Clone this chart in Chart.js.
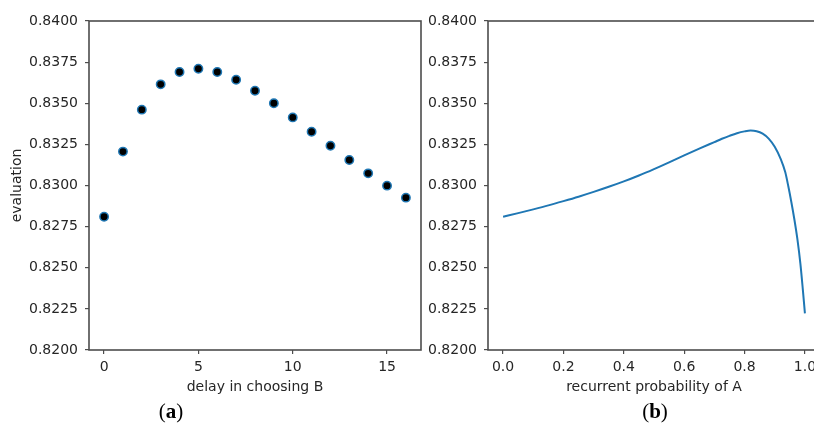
<!DOCTYPE html>
<html><head><meta charset="utf-8">
<script src="https://cdn.jsdelivr.net/npm/chart.js@4.4.1/dist/chart.umd.min.js"></script>
<style>
html,body{margin:0;padding:0;background:#fff;width:814px;height:426px;overflow:hidden;position:relative;}
.wrap{position:absolute;top:0;width:440px;height:426px;}
#wrapA{left:0;}
#wrapB{left:399px;}
.lab{position:absolute;top:399px;font-family:'Liberation Serif','DejaVu Serif',serif;font-size:21px;color:#000;transform:translateX(-50%);white-space:nowrap;line-height:24px;}
</style></head><body>
<div class="wrap" id="wrapA"><canvas id="cA" width="440" height="426" style="width:440px;height:426px"></canvas></div>
<div class="wrap" id="wrapB"><canvas id="cB" width="440" height="426" style="width:440px;height:426px"></canvas></div>
<div class="lab" style="left:171px">(<b>a</b>)</div>
<div class="lab" style="left:655px">(<b>b</b>)</div>
<script>
// ---- data ----
const delayX = [0,1,2,3,4,5,6,7,8,9,10,11,12,13,14,15,16];
const delayEval = [0.82810,0.83206,0.83461,0.83615,0.83690,0.83710,0.83690,0.83643,0.83576,0.83500,0.83414,0.83327,0.83242,0.83155,0.83074,0.82999,0.82926];
const probX = [0,0.05,0.1,0.15,0.2,0.25,0.3,0.35,0.4,0.45,0.5,0.55,0.6,0.65,0.7,0.725,0.75,0.775,0.8,0.82,0.84,0.86,0.88,0.9,0.92,0.935,0.945,0.955,0.965,0.975,0.985,0.993,1.0];
const probEval = [0.82810,0.82832,0.82855,0.82879,0.82905,0.82932,0.82961,0.82992,0.83025,0.83061,0.83100,0.83141,0.83183,0.83224,0.83264,0.83284,0.83302,0.83318,0.83329,0.83334,0.83330,0.83315,0.83285,0.83235,0.83160,0.83080,0.82995,0.82900,0.82795,0.82675,0.82525,0.82370,0.82223];
const yTicks = [0.8200,0.8225,0.8250,0.8275,0.8300,0.8325,0.8350,0.8375,0.8400];
const xTicksA = [0,5,10,15];
const xTicksB = [0.0,0.2,0.4,0.6,0.8,1.0];
const labelA = 'delay in choosing B';
const labelB = 'recurrent probability of A';
const labelY = 'evaluation';

const FONT = "'DejaVu Sans', sans-serif";
const TXT = '#262626';
const FRAME = '#4d4d4d';
const BLUE = '#1f77b4';

const framePlugin = {
  id: 'frame',
  beforeDatasetsDraw(chart) {
    const a = chart.chartArea, ctx = chart.ctx;
    ctx.save();
    ctx.strokeStyle = FRAME;
    ctx.lineWidth = 1.6;
    ctx.strokeRect(a.left, a.top, a.right - a.left, a.bottom - a.top);
    ctx.restore();
  }
};

function makeOptions(xmin, xmax, xTicks, xDigits, xTitle, showYTitle) {
  return {
    responsive: false,
    animation: false,
    layout: { padding: { top: 21, left: 0, right: 19, bottom: 0 } },
    plugins: { legend: { display: false }, tooltip: { enabled: false } },
    scales: {
      x: {
        type: 'linear', min: xmin, max: xmax,
        afterBuildTicks: s => { s.ticks = xTicks.map(v => ({ value: v })); },
        afterFit: s => { s.height = 76; },
        ticks: { color: TXT, font: { family: FONT, size: 14 }, padding: 5, maxRotation: 0,
                 callback: v => xDigits ? Number(v).toFixed(xDigits) : String(v) },
        grid: { display: true, drawOnChartArea: false, drawTicks: true, tickLength: 4, color: FRAME, lineWidth: 1.2 },
        border: { display: false },
        title: { display: true, text: xTitle, color: TXT, font: { family: FONT, size: 14 }, padding: { top: 0, bottom: 30 } }
      },
      y: {
        type: 'linear', min: 0.82, max: 0.84,
        afterBuildTicks: s => { s.ticks = yTicks.map(v => ({ value: v })); },
        afterFit: s => { s.width = 89; },
        ticks: { color: TXT, font: { family: FONT, size: 14 }, padding: 7,
                 callback: v => Number(v).toFixed(4) },
        grid: { display: true, drawOnChartArea: false, drawTicks: true, tickLength: 4, color: FRAME, lineWidth: 1.2 },
        border: { display: false },
        title: { display: showYTitle, text: labelY, color: TXT, font: { family: FONT, size: 14 }, padding: { top: 9, bottom: 0 } }
      }
    }
  };
}

new Chart(document.getElementById('cA'), {
  type: 'scatter',
  data: { datasets: [{
    data: delayX.map((x, i) => ({ x: x, y: delayEval[i] })),
    backgroundColor: '#000', borderColor: BLUE, borderWidth: 1.5, pointRadius: 4.2, showLine: false
  }]},
  options: makeOptions(-0.8, 16.8, xTicksA, 0, labelA, true),
  plugins: [framePlugin]
});

new Chart(document.getElementById('cB'), {
  type: 'line',
  data: { datasets: [{
    data: probX.map((x, i) => ({ x: x, y: probEval[i] })),
    borderColor: BLUE, borderWidth: 2, pointRadius: 0, fill: false, cubicInterpolationMode: 'monotone'
  }]},
  options: makeOptions(-0.05, 1.05, xTicksB, 1, labelB, false),
  plugins: [framePlugin]
});
</script>
</body></html>
